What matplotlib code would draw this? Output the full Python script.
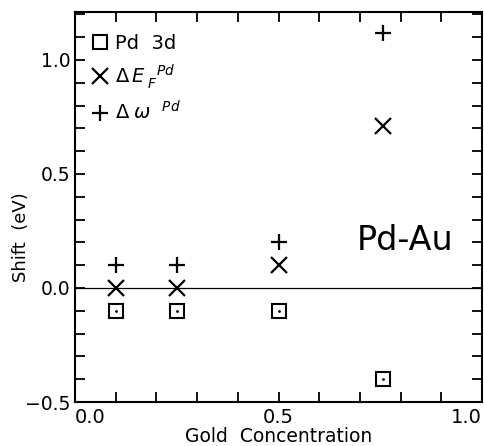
import matplotlib.pyplot as plt
from matplotlib.ticker import MultipleLocator

# Data
conc = [0.1, 0.25, 0.5, 0.757]
pd3d = [-0.1, -0.1, -0.1, -0.4]
dEF = [0.0, 0.0, 0.1, 0.71]
domega = [0.1, 0.1, 0.2, 1.12]
xticks = [0.0, 0.5, 1.0]
xticklabels = ['0.0', '0.5', '1.0']

plt.rcParams['font.family'] = 'DejaVu Sans'
plt.rcParams['mathtext.fontset'] = 'dejavusans'

fig = plt.figure(figsize=(4.85, 4.46), dpi=100)
ax = fig.add_axes([75/485, 44/446, 407/485, 390/446])

ax.axhline(0, color='black', lw=0.9)

sq, = ax.plot(conc, pd3d, 's', ms=10, mfc='white', mec='black', mew=1.5)
ax.plot(conc, pd3d, '.', ms=2, color='black')
xx, = ax.plot(conc, dEF, 'x', ms=11, mew=1.6, color='black')
pp, = ax.plot(conc, domega, '+', ms=12, mew=1.6, color='black')

ax.legend([sq, xx, pp],
          ['Pd  3d', r'$\Delta\,E_{\;F}^{\;\;\;Pd}$', r'$\Delta\;\omega^{\;\;\;Pd}$'],
          loc='upper left', bbox_to_anchor=(0.042, 0.944), borderaxespad=0,
          borderpad=0, frameon=False, fontsize=14, handlelength=0.8,
          handletextpad=0.4, labelspacing=0.48)

ax.text(0.81, 0.21, 'Pd-Au', fontsize=24, ha='center', va='center')

ax.set_xlim(0, 1.0)
ax.set_ylim(-0.5, 1.21)
ax.set_xticks(xticks)
labels = ax.set_xticklabels(xticklabels)
labels[0].set_ha('left')
labels[-1].set_ha('right')
ax.xaxis.set_minor_locator(MultipleLocator(0.1))
ax.yaxis.set_major_locator(MultipleLocator(0.5))
ax.yaxis.set_minor_locator(MultipleLocator(0.1))
ax.tick_params(which='both', direction='in', top=True, right=True, labelsize=14)
ax.tick_params(which='major', length=7, width=1.3)
ax.tick_params(which='minor', length=7, width=1.3)
ax.tick_params(axis='x', pad=4)
ax.tick_params(axis='y', labelsize=13.5)
for s in ax.spines.values():
    s.set_linewidth(1.5)

ax.set_xlabel('Gold  Concentration', fontsize=13.5, labelpad=0)
ax.set_ylabel('Shift  (eV)', fontsize=13)
ax.yaxis.set_label_coords(-0.11, 0.423)

fig.savefig('out.png', dpi=100)
